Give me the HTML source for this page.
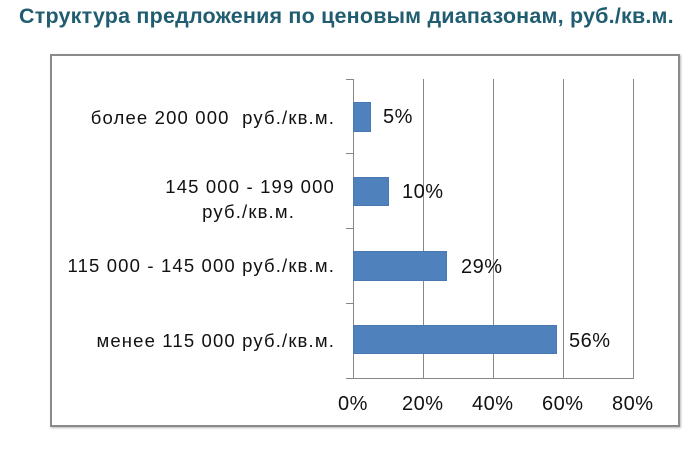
<!DOCTYPE html>
<html><head><meta charset="utf-8"><style>
body{margin:0;width:700px;height:453px;background:#fff;position:relative;overflow:hidden;font-family:"Liberation Sans",Arial,sans-serif}
.t{position:absolute;left:19px;top:3px;font-size:21.5px;line-height:26px;font-weight:bold;color:#215d70;white-space:nowrap;letter-spacing:0.2px}
.box{position:absolute;left:50px;top:54px;width:630px;height:373px;border:2px solid #8a8a8a;box-sizing:border-box;box-shadow:1px 1px 2px #bbb}
.a{position:absolute;font-size:19px;line-height:22px;color:#111;white-space:nowrap}
.l{letter-spacing:1.15px;font-size:18.5px}
.p{font-size:20px;letter-spacing:0.5px}
.r{text-align:right}
.g{position:absolute;top:79px;width:1px;height:299px;background:#888}
.b{position:absolute;left:353px;background:#4f81bd;border:1px solid #4a78b0;box-sizing:border-box}
.tk{position:absolute;left:346px;width:7px;height:1px;background:#888}
</style></head><body>
<div class="t">Структура предложения по ценовым диапазонам, руб./кв.м.</div>
<div class="box"></div>
<div class="g" style="left:353px"></div>
<div class="g" style="left:423px"></div>
<div class="g" style="left:493px"></div>
<div class="g" style="left:563px"></div>
<div class="g" style="left:633px"></div>
<div style="position:absolute;left:353px;top:378px;width:281px;height:1px;background:#888"></div>
<div class="tk" style="top:79px"></div><div class="tk" style="top:153px"></div><div class="tk" style="top:228px"></div><div class="tk" style="top:303px"></div><div class="tk" style="top:378px"></div>
<div class="b" style="top:102px;width:18px;height:30px"></div>
<div class="b" style="top:177px;width:36px;height:29px"></div>
<div class="b" style="top:251px;width:94px;height:30px"></div>
<div class="b" style="top:325px;width:204px;height:29px"></div>
<div class="a p" style="left:383px;top:106px">5%</div>
<div class="a p" style="left:402px;top:181px">10%</div>
<div class="a p" style="left:461px;top:256px">29%</div>
<div class="a p" style="left:569px;top:330px">56%</div>
<div class="a r l" style="right:365px;top:107px">более 200 000&nbsp; руб./кв.м.</div>
<div class="a r l" style="right:365px;top:174px;line-height:25px">145 000 - 199 000<br><span style="margin-right:40px">руб./кв.м.</span></div>
<div class="a r l" style="right:365px;top:255px">115 000 - 145 000 руб./кв.м.</div>
<div class="a r l" style="right:365px;top:330px">менее 115 000 руб./кв.м.</div>
<div class="a p" style="left:338px;top:393px">0%</div>
<div class="a p" style="left:402px;top:393px">20%</div>
<div class="a p" style="left:472px;top:393px">40%</div>
<div class="a p" style="left:542px;top:393px">60%</div>
<div class="a p" style="left:612px;top:393px">80%</div>
</body></html>
